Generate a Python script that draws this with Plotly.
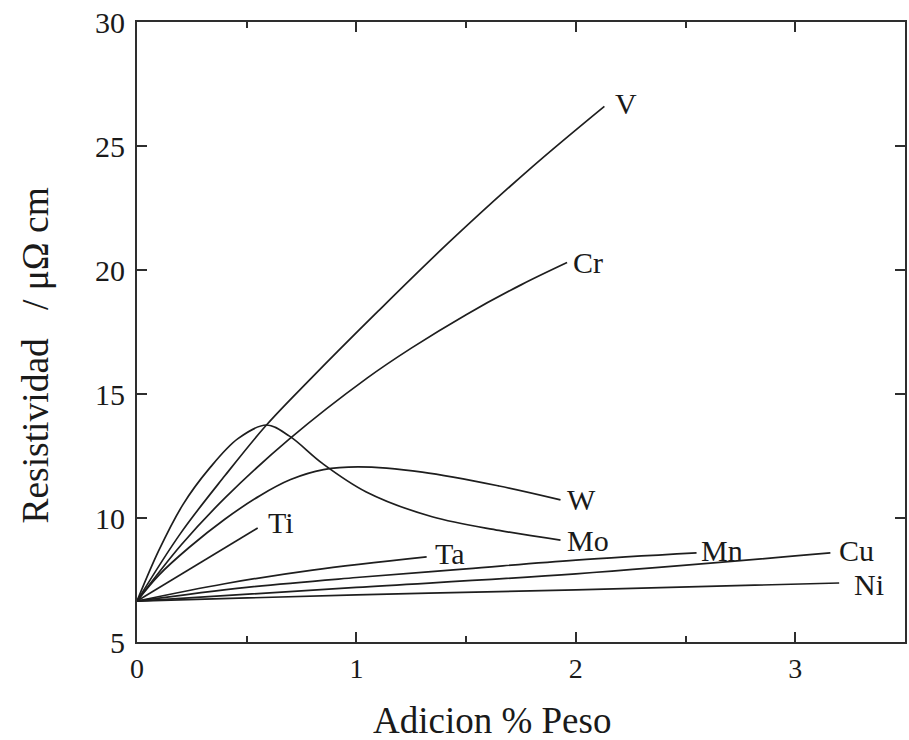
import plotly.graph_objects as go

# Resistivity vs alloying addition (wt %), one curve per element
V_x = [0, 0.2, 0.4, 0.59, 0.79, 1.1, 1.42, 1.8, 2.13]
V_y = [6.65, 9.4, 11.7, 13.75, 15.6, 18.35, 21.1, 24.15, 26.6]

Cr_x = [0, 0.2, 0.4, 0.695, 1.05, 1.25, 1.5, 1.75, 1.96]
Cr_y = [6.65, 8.9, 10.8, 13.19, 15.65, 16.85, 18.2, 19.4, 20.3]

Mo_x = [0, 0.1, 0.21, 0.33, 0.46, 0.59, 0.695, 0.845, 1.045, 1.345, 1.65, 1.93]
Mo_y = [6.65, 8.7, 10.55, 12.0, 13.2, 13.75, 13.3, 12.2, 11.05, 10.05, 9.5, 9.11]

W_x = [0, 0.1, 0.24, 0.4, 0.56, 0.7, 0.85, 1.01, 1.3, 1.65, 1.93]
W_y = [6.65, 7.7, 8.83, 9.95, 10.9, 11.55, 11.95, 12.06, 11.85, 11.29, 10.73]

Ti_x = [0, 0.55]
Ti_y = [6.65, 9.6]

Ta_x = [0, 0.4, 0.8, 1.32]
Ta_y = [6.65, 7.35, 7.9, 8.43]

Mn_x = [0, 0.5, 1.0, 1.5, 2.0, 2.55]
Mn_y = [6.65, 7.2, 7.6, 7.95, 8.3, 8.59]

Cu_x = [0, 1, 2, 3.16]
Cu_y = [6.65, 7.2, 7.75, 8.59]

Ni_x = [0, 1, 2, 3.2]
Ni_y = [6.65, 6.9, 7.1, 7.38]

series = [
    ("V", V_x, V_y), ("Cr", Cr_x, Cr_y), ("Mo", Mo_x, Mo_y), ("W", W_x, W_y),
    ("Ti", Ti_x, Ti_y), ("Ta", Ta_x, Ta_y), ("Mn", Mn_x, Mn_y),
    ("Cu", Cu_x, Cu_y), ("Ni", Ni_x, Ni_y),
]

# label anchor offsets (data units) relative to each curve's last point
label_offsets = {
    "V": (0.04, 0.1), "Cr": (0.02, 0.0), "Mo": (0.02, 0.0), "W": (0.02, 0.0),
    "Ti": (0.04, 0.2), "Ta": (0.03, 0.15), "Mn": (0.01, 0.1),
    "Cu": (0.03, 0.1), "Ni": (0.06, -0.05),
}

FONT = "Liberation Serif, Times New Roman, serif"
INK = "#1a1a1a"
AXIS = "#2e2e2e"

fig = go.Figure()
for name, xs, ys in series:
    fig.add_trace(go.Scatter(
        x=xs, y=ys, mode="lines", name=name,
        line=dict(color="#1e1e1e", width=1.7, shape="spline", smoothing=1.0),
        showlegend=False, hoverinfo="skip",
    ))
    dx, dy = label_offsets[name]
    fig.add_annotation(
        x=xs[-1] + dx, y=ys[-1] + dy, text=name, showarrow=False,
        xanchor="left", yanchor="middle",
        font=dict(family=FONT, size=30, color=INK),
    )

x_ticks = [0, 1, 2, 3]
y_ticks = [5, 10, 15, 20, 25, 30]

fig.update_layout(
    width=909, height=740,
    margin=dict(l=137, r=2, t=22, b=98),
    paper_bgcolor="white", plot_bgcolor="white",
)
# inward ticks on all four sides (mirrored), minor ticks every 0.5 on x
fig.update_xaxes(
    range=[0, 3.5], tickvals=x_ticks, ticktext=[str(v) for v in x_ticks],
    showline=True, linecolor=AXIS, linewidth=2, mirror="ticks",
    ticks="inside", ticklen=10, tickwidth=1.8, tickcolor=AXIS,
    showgrid=False, zeroline=False,
    minor=dict(dtick=0.5, tick0=0, ticks="inside", ticklen=6, tickwidth=1.6,
               tickcolor=AXIS, showgrid=False),
    tickfont=dict(family=FONT, size=28, color=INK),
)
fig.update_yaxes(
    range=[5, 30], tickvals=y_ticks,
    showline=True, linecolor=AXIS, linewidth=2, mirror="ticks",
    ticks="inside", ticklen=10, tickwidth=1.8, tickcolor=AXIS,
    showgrid=False, zeroline=False, ticklabelstandoff=4,
    tickfont=dict(family=FONT, size=30, color=INK),
)

# axis titles
fig.add_annotation(
    xref="paper", yref="paper", x=0.4617, y=-0.127, text="Adicion % Peso",
    showarrow=False, xanchor="center", yanchor="middle",
    font=dict(family=FONT, size=37, color=INK),
)
fig.add_annotation(
    xref="paper", yref="paper", x=-0.132, y=0.463,
    text="Resistividad   / μΩ cm", textangle=-90,
    showarrow=False, xanchor="center", yanchor="middle",
    font=dict(family=FONT, size=37.5, color=INK),
)

fig.write_html("out.html")
